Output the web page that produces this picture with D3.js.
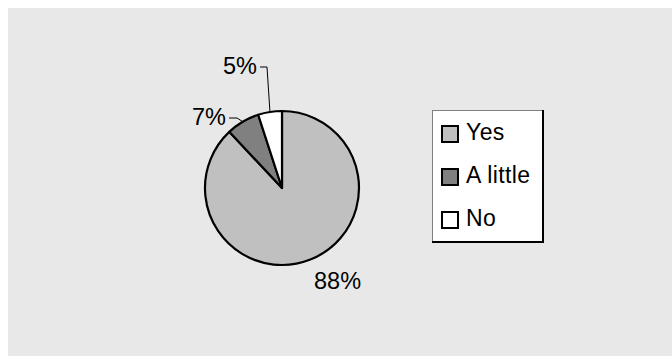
<!DOCTYPE html>
<html><head><meta charset="utf-8">
<script src="https://cdn.jsdelivr.net/npm/d3@7"></script>
<style>html,body{margin:0;padding:0;background:#fff;}svg{display:block;font-family:"Liberation Sans",Arial,sans-serif;}</style>
</head><body>
<svg id="c" width="672" height="356"></svg>
<script>
const categories = ["Yes", "A little", "No"];
const values = [88, 7, 5];
const labels = ["88%", "7%", "5%"];
const colors = ["#c0c0c0", "#808080", "#ffffff"];

const svg = d3.select("#c");
svg.append("rect").attr("x", 8).attr("y", 8).attr("width", 664).attr("height", 348).attr("fill", "#e8e8e8");

const cx = 282, cy = 188, r = 77;
const pie = d3.pie().sort(null).value(d => d)(values);
const arc = d3.arc().innerRadius(0).outerRadius(r);
const g = svg.append("g").attr("transform", `translate(${cx},${cy})`);
g.selectAll("path").data(pie).join("path")
  .attr("d", arc).attr("fill", (d, i) => colors[i])
  .attr("stroke", "#000").attr("stroke-width", 2.2).attr("stroke-linejoin", "round");

// labels
const labelPos = [
  {x: 314, y: 289, leader: null},
  {x: 192, y: 125, leader: [[-45, -70], [-53, -70]]},
  {x: 223, y: 74, leader: [[-15, -121], [-22, -121]]}
];
pie.forEach((d, i) => {
  const a = (d.startAngle + d.endAngle) / 2;
  const px = r * Math.sin(a), py = -r * Math.cos(a);
  const lp = labelPos[i];
  if (lp.leader) {
    const pts = [[px, py]].concat(lp.leader);
    g.append("path").attr("d", d3.line()(pts)).attr("fill", "none").attr("stroke", "#000").attr("stroke-width", 1);
  }
  svg.append("text").attr("x", lp.x).attr("y", lp.y).attr("font-size", 23.5).attr("fill", "#000").text(labels[i]);
});

// legend
const lg = svg.append("g");
lg.append("rect").attr("x", 432.5).attr("y", 110.5).attr("width", 110).attr("height", 131).attr("fill", "#fff").attr("stroke", "#808080").attr("stroke-width", 1);
lg.append("path").attr("d", "M543,110 V242 H432").attr("fill", "none").attr("stroke", "#000").attr("stroke-width", 2);
categories.forEach((c, i) => {
  const y = 139 + i * 43;
  lg.append("rect").attr("x", 442).attr("y", y - 13).attr("width", 16).attr("height", 16)
    .attr("fill", colors[i]).attr("stroke", "#000").attr("stroke-width", 2);
  lg.append("text").attr("x", 466).attr("y", y + 0.5).attr("font-size", 23).attr("letter-spacing", 0.4).attr("fill", "#000").text(c);
});
</script>
</body></html>
